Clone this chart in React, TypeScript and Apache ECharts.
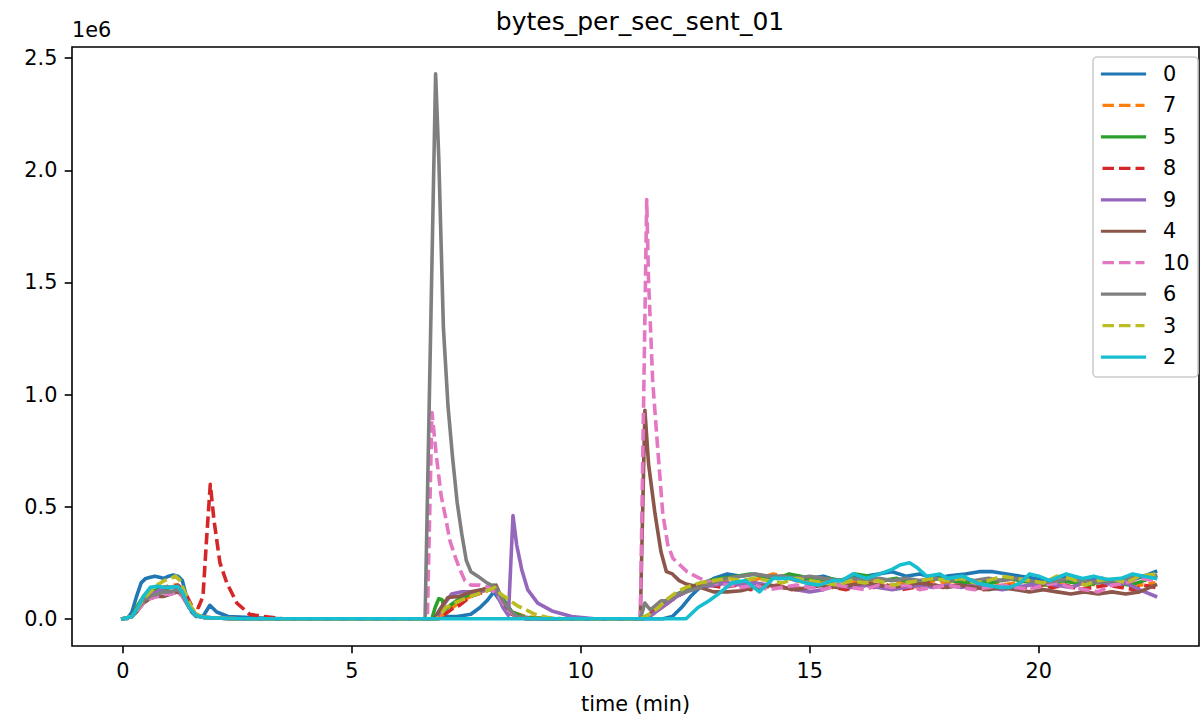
import React, { useEffect, useRef } from "react";
import * as echarts from "echarts";

type P = [number, number];

// series legend order (plot order)
const seriesNames = ["0", "7", "5", "8", "9", "4", "10", "6", "3", "2"];
const seriesColors = ["#1f77b4", "#ff7f0e", "#2ca02c", "#d62728", "#9467bd", "#8c564b", "#e377c2", "#7f7f7f", "#bcbd22", "#17becf"];
const dashedNames = ["7", "8", "10", "3"];

const xTicks = [0, 5, 10, 15, 20];
const yTicks = [0, 0.5, 1.0, 1.5, 2.0, 2.5];

const titleText = "bytes_per_sec_sent_01";
const xLabel = "time (min)";
const yOffsetText = "1e6";

// values in units of 1e6 bytes/sec; x = time (min)
const s0: P[] = [[0,0],[0.1,0],[0.2,0.03],[0.3,0.1],[0.4,0.16],[0.5,0.18],[0.6,0.185],[0.7,0.19],[0.8,0.185],[0.9,0.18],[1.0,0.19],[1.1,0.195],[1.2,0.19],[1.3,0.17],[1.4,0.09],[1.5,0.03],[1.6,0.01],[1.75,0.01],[1.9,0.06],[2.05,0.03],[2.3,0.01],[2.8,0.005],[3.5,0],[6.8,0],[7.0,0.01],[7.3,0.01],[7.6,0.02],[7.8,0.05],[7.95,0.08],[8.1,0.12],[8.3,0.06],[8.5,0.02],[8.8,0.005],[9.5,0],[11.8,0],[12.0,0.01],[12.2,0.05],[12.4,0.1],[12.6,0.14],[12.9,0.18],[13.2,0.2],[13.5,0.19],[13.8,0.2],[14.1,0.18],[14.4,0.19],[14.7,0.17],[15.0,0.18],[15.3,0.19],[15.6,0.17],[15.9,0.18],[16.2,0.19],[16.5,0.2],[16.8,0.21],[17.1,0.19],[17.4,0.2],[17.7,0.18],[18.0,0.19],[18.4,0.2],[18.7,0.21],[19.0,0.21],[19.3,0.2],[19.6,0.19],[19.9,0.18],[20.2,0.17],[20.5,0.19],[20.8,0.18],[21.1,0.17],[21.4,0.18],[21.7,0.15],[22.0,0.17],[22.3,0.19],[22.55,0.21]];
const s7: P[] = [[0,0],[0.2,0.01],[0.3,0.05],[0.45,0.1],[0.6,0.13],[0.75,0.14],[0.9,0.14],[1.05,0.15],[1.2,0.15],[1.3,0.13],[1.45,0.06],[1.6,0.02],[1.8,0.005],[2.5,0],[6.8,0],[7.0,0.02],[7.2,0.05],[7.4,0.08],[7.6,0.1],[7.8,0.12],[8.0,0.13],[8.15,0.14],[8.3,0.08],[8.5,0.03],[8.8,0.01],[9.2,0],[11.3,0],[11.5,0.01],[11.7,0.04],[11.9,0.07],[12.1,0.1],[12.3,0.13],[12.5,0.14],[12.7,0.15],[13.0,0.16],[13.3,0.17],[13.6,0.16],[13.9,0.18],[14.2,0.2],[14.4,0.19],[14.7,0.17],[15.0,0.16],[15.3,0.17],[15.6,0.15],[15.9,0.16],[16.2,0.17],[16.5,0.16],[16.8,0.18],[17.1,0.15],[17.4,0.14],[17.7,0.17],[18.0,0.16],[18.3,0.18],[18.6,0.16],[18.9,0.17],[19.2,0.15],[19.5,0.16],[19.8,0.17],[20.1,0.15],[20.4,0.16],[20.7,0.14],[21.0,0.16],[21.3,0.15],[21.6,0.17],[21.9,0.16],[22.2,0.15],[22.55,0.16]];
const s5: P[] = [[0,0],[0.2,0.01],[0.3,0.05],[0.45,0.1],[0.6,0.12],[0.75,0.13],[0.9,0.13],[1.05,0.14],[1.2,0.14],[1.3,0.12],[1.45,0.05],[1.6,0.015],[1.8,0.005],[2.5,0],[6.75,0],[6.82,0.05],[6.9,0.09],[6.97,0.085],[7.03,0.04],[7.15,0.06],[7.35,0.09],[7.6,0.11],[7.85,0.13],[8.1,0.15],[8.3,0.09],[8.5,0.03],[8.8,0.005],[9.2,0],[11.3,0],[11.5,0.02],[11.7,0.05],[11.9,0.08],[12.1,0.11],[12.3,0.13],[12.5,0.15],[12.8,0.17],[13.1,0.18],[13.4,0.19],[13.7,0.2],[14.0,0.19],[14.3,0.18],[14.55,0.2],[14.8,0.19],[15.1,0.17],[15.4,0.18],[15.7,0.17],[16.0,0.2],[16.3,0.19],[16.6,0.17],[16.9,0.18],[17.2,0.16],[17.5,0.17],[17.8,0.18],[18.1,0.17],[18.4,0.16],[18.7,0.17],[19.0,0.16],[19.3,0.18],[19.6,0.17],[19.9,0.16],[20.2,0.15],[20.5,0.17],[20.8,0.16],[21.1,0.15],[21.4,0.17],[21.7,0.16],[22.0,0.15],[22.3,0.17],[22.55,0.19]];
const s8: P[] = [[0,0],[0.2,0.01],[0.3,0.04],[0.45,0.09],[0.6,0.12],[0.75,0.13],[0.9,0.14],[1.05,0.14],[1.2,0.15],[1.35,0.12],[1.5,0.06],[1.65,0.05],[1.75,0.1],[1.83,0.36],[1.91,0.6],[1.99,0.44],[2.12,0.25],[2.27,0.16],[2.49,0.07],[2.77,0.02],[3.06,0.01],[3.5,0],[6.9,0],[7.2,0.045],[7.35,0.06],[7.6,0.1],[7.9,0.12],[8.1,0.14],[8.3,0.07],[8.5,0.02],[8.8,0],[11.35,0],[11.5,0.02],[11.7,0.05],[11.9,0.07],[12.1,0.1],[12.3,0.12],[12.5,0.14],[12.8,0.15],[13.1,0.14],[13.4,0.15],[13.7,0.13],[14.0,0.14],[14.3,0.15],[14.6,0.13],[14.9,0.14],[15.2,0.15],[15.5,0.14],[15.8,0.13],[16.1,0.15],[16.4,0.14],[16.7,0.15],[17.0,0.13],[17.3,0.14],[17.6,0.16],[17.9,0.14],[18.2,0.15],[18.5,0.14],[18.8,0.13],[19.1,0.14],[19.4,0.15],[19.7,0.14],[20.0,0.15],[20.3,0.14],[20.6,0.15],[20.9,0.13],[21.2,0.14],[21.5,0.15],[21.8,0.14],[22.1,0.13],[22.3,0.15],[22.55,0.14]];
const s9: P[] = [[0,0],[0.2,0.01],[0.3,0.04],[0.45,0.08],[0.6,0.11],[0.75,0.12],[0.9,0.14],[1.05,0.14],[1.2,0.14],[1.3,0.12],[1.45,0.05],[1.6,0.015],[1.8,0.005],[2.5,0],[6.85,0],[7.0,0.06],[7.18,0.11],[7.4,0.12],[7.7,0.12],[8.0,0.13],[8.15,0.12],[8.3,0.05],[8.42,0.015],[8.52,0.46],[8.6,0.33],[8.71,0.22],[8.84,0.13],[9.06,0.07],[9.37,0.035],[9.8,0.01],[10.3,0],[11.3,0],[11.5,0.01],[11.7,0.04],[11.9,0.07],[12.1,0.1],[12.3,0.12],[12.6,0.14],[12.9,0.15],[13.2,0.16],[13.5,0.15],[13.8,0.16],[14.1,0.15],[14.4,0.14],[14.7,0.13],[15.0,0.12],[15.3,0.13],[15.6,0.15],[15.9,0.14],[16.2,0.15],[16.5,0.14],[16.8,0.13],[17.1,0.14],[17.4,0.15],[17.7,0.14],[18.0,0.15],[18.3,0.14],[18.6,0.15],[18.9,0.14],[19.2,0.13],[19.5,0.14],[19.8,0.15],[20.1,0.16],[20.4,0.15],[20.7,0.14],[21.0,0.16],[21.3,0.17],[21.6,0.15],[21.9,0.16],[22.2,0.13],[22.55,0.1]];
const s4: P[] = [[0,0],[0.2,0.01],[0.3,0.03],[0.45,0.07],[0.6,0.09],[0.75,0.1],[0.9,0.1],[1.05,0.11],[1.2,0.12],[1.3,0.1],[1.45,0.05],[1.6,0.015],[1.8,0.005],[2.5,0],[6.8,0],[6.95,0.05],[7.1,0.095],[7.35,0.1],[7.6,0.12],[7.85,0.13],[8.15,0.15],[8.3,0.08],[8.5,0.02],[8.8,0],[11.3,0],[11.4,0.93],[11.48,0.69],[11.62,0.47],[11.75,0.3],[11.87,0.21],[12.0,0.2],[12.15,0.17],[12.3,0.155],[12.6,0.14],[12.9,0.12],[13.2,0.12],[13.5,0.125],[13.8,0.14],[14.1,0.15],[14.4,0.14],[14.7,0.13],[15.0,0.14],[15.3,0.15],[15.6,0.14],[15.9,0.15],[16.2,0.16],[16.5,0.15],[16.8,0.14],[17.1,0.15],[17.4,0.16],[17.7,0.15],[18.0,0.14],[18.3,0.15],[18.6,0.14],[18.9,0.13],[19.2,0.14],[19.5,0.13],[19.8,0.12],[20.1,0.13],[20.4,0.12],[20.7,0.11],[21.0,0.12],[21.3,0.11],[21.6,0.12],[21.9,0.11],[22.2,0.12],[22.55,0.15]];
const s10: P[] = [[0,0],[0.2,0.01],[0.3,0.03],[0.45,0.07],[0.6,0.09],[0.75,0.1],[0.9,0.11],[1.05,0.11],[1.2,0.12],[1.3,0.1],[1.45,0.05],[1.6,0.015],[1.8,0.005],[2.5,0],[6.65,0],[6.75,0.92],[6.85,0.72],[6.95,0.55],[7.05,0.45],[7.14,0.35],[7.25,0.28],[7.36,0.22],[7.47,0.17],[7.6,0.15],[7.8,0.15],[8.0,0.14],[8.2,0.1],[8.4,0.04],[8.6,0.01],[8.9,0],[11.3,0],[11.44,1.87],[11.48,1.51],[11.57,1.06],[11.68,0.76],[11.79,0.47],[11.9,0.33],[12.01,0.27],[12.32,0.21],[12.6,0.18],[12.9,0.16],[13.2,0.15],[13.5,0.14],[13.8,0.15],[14.1,0.13],[14.4,0.14],[14.7,0.15],[15.0,0.14],[15.3,0.13],[15.6,0.15],[15.9,0.14],[16.2,0.13],[16.5,0.15],[16.8,0.14],[17.1,0.15],[17.4,0.13],[17.7,0.14],[18.0,0.15],[18.3,0.14],[18.6,0.13],[18.9,0.14],[19.2,0.15],[19.5,0.14],[19.8,0.13],[20.1,0.15],[20.4,0.16],[20.7,0.14],[21.0,0.13],[21.3,0.12],[21.6,0.15],[21.9,0.16],[22.2,0.18],[22.55,0.17]];
const s6: P[] = [[0,0],[0.2,0.01],[0.3,0.04],[0.45,0.08],[0.6,0.1],[0.75,0.11],[0.9,0.12],[1.05,0.12],[1.2,0.13],[1.3,0.11],[1.45,0.05],[1.6,0.015],[1.8,0.005],[2.5,0],[6.6,0],[6.83,2.43],[6.9,2.05],[7.0,1.3],[7.1,0.95],[7.2,0.72],[7.3,0.52],[7.4,0.38],[7.5,0.26],[7.6,0.21],[7.75,0.19],[7.95,0.16],[8.15,0.14],[8.3,0.08],[8.45,0.04],[8.6,0.01],[8.9,0],[11.3,0],[11.4,0.07],[11.52,0.04],[11.75,0.08],[11.9,0.08],[12.1,0.11],[12.3,0.12],[12.6,0.14],[12.9,0.16],[13.2,0.18],[13.5,0.19],[13.8,0.2],[14.1,0.19],[14.4,0.19],[14.7,0.18],[15.0,0.19],[15.3,0.18],[15.6,0.17],[15.9,0.18],[16.2,0.17],[16.5,0.18],[16.8,0.17],[17.1,0.18],[17.4,0.17],[17.7,0.18],[18.0,0.17],[18.3,0.18],[18.6,0.17],[18.9,0.18],[19.2,0.17],[19.5,0.18],[19.8,0.17],[20.1,0.16],[20.4,0.17],[20.7,0.18],[21.0,0.17],[21.3,0.16],[21.6,0.17],[21.9,0.18],[22.2,0.19],[22.55,0.19]];
const s3: P[] = [[0,0],[0.2,0.01],[0.3,0.04],[0.45,0.09],[0.6,0.12],[0.75,0.15],[0.9,0.17],[1.05,0.18],[1.15,0.19],[1.25,0.17],[1.35,0.12],[1.5,0.05],[1.65,0.015],[1.8,0.005],[2.5,0],[6.85,0],[6.95,0.02],[7.05,0.05],[7.3,0.075],[7.6,0.1],[7.9,0.12],[8.13,0.14],[8.25,0.11],[8.4,0.09],[8.6,0.06],[8.8,0.04],[9.0,0.02],[9.3,0.005],[9.6,0],[11.3,0],[11.5,0.02],[11.7,0.05],[11.9,0.09],[12.1,0.12],[12.3,0.14],[12.6,0.16],[12.9,0.17],[13.2,0.18],[13.5,0.17],[13.8,0.18],[14.1,0.17],[14.4,0.16],[14.7,0.18],[15.0,0.17],[15.3,0.16],[15.6,0.15],[15.9,0.17],[16.2,0.16],[16.5,0.17],[16.8,0.15],[17.1,0.16],[17.4,0.17],[17.7,0.18],[18.0,0.17],[18.3,0.18],[18.6,0.16],[18.9,0.17],[19.2,0.19],[19.5,0.18],[19.8,0.17],[20.1,0.16],[20.4,0.19],[20.7,0.18],[21.0,0.15],[21.3,0.17],[21.6,0.18],[21.9,0.16],[22.2,0.19],[22.55,0.2]];
const s2: P[] = [[0,0],[0.2,0.01],[0.3,0.04],[0.45,0.1],[0.6,0.14],[0.75,0.145],[0.9,0.14],[1.05,0.14],[1.2,0.145],[1.3,0.12],[1.45,0.05],[1.6,0.015],[1.8,0.005],[2.5,0],[12.3,0],[12.56,0.05],[12.8,0.08],[13.0,0.11],[13.3,0.16],[13.6,0.17],[13.9,0.12],[14.2,0.18],[14.6,0.18],[14.9,0.16],[15.2,0.15],[15.5,0.17],[15.7,0.17],[15.95,0.2],[16.24,0.18],[16.53,0.2],[16.8,0.22],[16.97,0.24],[17.18,0.25],[17.33,0.23],[17.55,0.19],[17.84,0.2],[18.0,0.18],[18.34,0.19],[18.65,0.16],[18.86,0.15],[19.15,0.14],[19.37,0.14],[19.6,0.16],[19.8,0.2],[20.0,0.19],[20.24,0.17],[20.6,0.2],[20.96,0.18],[21.2,0.19],[21.48,0.175],[21.8,0.18],[22.05,0.2],[22.3,0.19],[22.55,0.18]];

const seriesData: P[][] = [s0, s7, s5, s8, s9, s4, s10, s6, s3, s2];

const FONT = "DejaVu Sans";
const FS = 20.8;
const LW = 3.2;
const SERIES_LW = 3.6;
const DASH = [11.5, 5];

export default function App() {
  const ref = useRef<HTMLDivElement>(null);
  useEffect(() => {
    if (!ref.current) return;
    const chart = echarts.init(ref.current, undefined, { renderer: "svg" });
    const series = seriesNames.map((name, i) => {
      const dashed = dashedNames.includes(name);
      return {
        name,
        type: "line",
        data: seriesData[i],
        symbol: "none",
        showSymbol: false,
        lineStyle: {
          color: seriesColors[i],
          width: SERIES_LW,
          type: dashed ? DASH : "solid",
          cap: dashed ? "butt" : "square",
          join: "round",
        },
        itemStyle: { color: seriesColors[i] },
        emphasis: { disabled: true },
      };
    });

    // legend drawn as graphic elements (matplotlib style)
    const legX = 1093, legY = 57, legW = 105, legH = 320;
    const rowY0 = 74, rowStep = 31.45;
    const legendEls: any[] = [
      { type: "rect", silent: true, z: 100,
        shape: { x: legX, y: legY, width: legW, height: legH, r: 4 },
        style: { fill: "rgba(255,255,255,0.8)", stroke: "#cccccc", lineWidth: 1.6 } },
    ];
    seriesNames.forEach((name, i) => {
      const dashed = dashedNames.includes(name);
      const y = rowY0 + i * rowStep;
      legendEls.push({ type: "line", silent: true, z: 101,
        shape: { x1: 1102.5, y1: y, x2: 1144.5, y2: y },
        style: { stroke: seriesColors[i], lineWidth: LW, lineDash: dashed ? DASH : null, lineCap: dashed ? "butt" : "square" } });
      legendEls.push({ type: "text", silent: true, z: 101, x: 1163, y,
        style: { text: name, fontSize: FS, fontFamily: FONT, fill: "#000", verticalAlign: "middle", textAlign: "left" } });
    });

    chart.setOption({
      animation: false,
      textStyle: { fontFamily: FONT },
      grid: {
        left: 72, top: 47, width: 1127, height: 599,
        show: true, borderColor: "#000", borderWidth: 1.6, backgroundColor: "transparent",
      },
      xAxis: {
        type: "value", min: -1.11, max: 23.5,
        name: xLabel, nameLocation: "middle", nameGap: 47,
        nameTextStyle: { fontSize: FS, color: "#000", fontFamily: FONT, verticalAlign: "top" },
        axisLine: { show: false, onZero: false },
        splitLine: { show: false },
        axisTick: { show: true, inside: false, length: 7.3, lineStyle: { color: "#000", width: 1.6 }, customValues: xTicks },
        axisLabel: { show: true, margin: 14, fontSize: FS, color: "#000", fontFamily: FONT, customValues: xTicks, formatter: (v: number) => String(v) },
      },
      yAxis: {
        type: "value", min: -0.1215, max: 2.55,
        axisLine: { show: false, onZero: false },
        splitLine: { show: false },
        axisTick: { show: true, inside: false, length: 7.3, lineStyle: { color: "#000", width: 1.6 }, customValues: yTicks },
        axisLabel: { show: true, margin: 14.6, fontSize: FS, color: "#000", fontFamily: FONT, customValues: yTicks, formatter: (v: number) => v.toFixed(1) },
      },
      graphic: [
        { type: "text", x: 640, y: 9, silent: true,
          style: { text: titleText, fontSize: 25, fontFamily: FONT, fill: "#000", textAlign: "center" } },
        { type: "text", x: 72, y: 19, silent: true,
          style: { text: yOffsetText, fontSize: FS, fontFamily: FONT, fill: "#000" } },
        ...legendEls,
      ],
      series,
    });
    return () => chart.dispose();
  }, []);
  return <div ref={ref} style={{ position: "fixed", left: 0, top: 0, width: 1201, height: 721, background: "#fff" }} />;
}
